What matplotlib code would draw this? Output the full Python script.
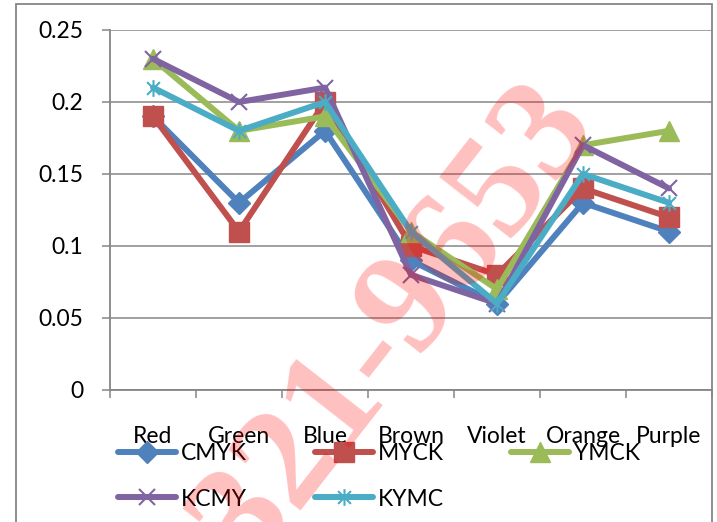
import matplotlib
matplotlib.use("Agg")
import matplotlib.pyplot as plt
from matplotlib.lines import Line2D
from matplotlib.patches import Rectangle
from matplotlib.path import Path
import numpy as np

categories = ["Red", "Green", "Blue", "Brown", "Violet", "Orange", "Purple"]
cmyk = [0.19, 0.13, 0.18, 0.09, 0.06, 0.13, 0.11]
myck = [0.19, 0.11, 0.20, 0.10, 0.08, 0.14, 0.12]
ymck = [0.23, 0.18, 0.19, 0.11, 0.07, 0.17, 0.18]
kcmy = [0.23, 0.20, 0.21, 0.08, 0.06, 0.17, 0.14]
kymc = [0.21, 0.18, 0.20, 0.11, 0.06, 0.15, 0.13]
series_names = ["CMYK", "MYCK", "YMCK", "KCMY", "KYMC"]
yticks = [0, 0.05, 0.1, 0.15, 0.2, 0.25]
ytick_labels = ["0", "0.05", "0.1", "0.15", "0.2", "0.25"]

plt.rcParams["font.family"] = ["Lato", "DejaVu Sans"]

# asterisk marker: an x with a vertical bar through it
star_path = Path(
    [(-1, -1), (1, 1), (-1, 1), (1, -1), (0, -1.3), (0, 1.3)],
    [Path.MOVETO, Path.LINETO, Path.MOVETO, Path.LINETO, Path.MOVETO, Path.LINETO],
)

styles = [
    dict(color="#4F81BD", marker="D", ms=11, mew=1),
    dict(color="#C0504D", marker="s", ms=14.5, mew=1),
    dict(color="#9BBB59", marker="^", ms=14, mew=1),
    dict(color="#8064A2", marker="x", ms=12, mew=1.5),
    dict(color="#4BACC6", marker=star_path, ms=12, mew=1.5),
]

W, H = 717, 522
fig = plt.figure(figsize=(W / 100, H / 100), dpi=100)
ax = fig.add_axes([110 / W, 1 - 390 / H, (712 - 110) / W, (390 - 30) / H])

grey = "#868686"
fs = 16.5
x = np.arange(len(categories))
for vals, st in zip([cmyk, myck, ymck, kcmy, kymc], styles):
    ax.plot(x, vals, color=st["color"], lw=4.3, marker=st["marker"],
            ms=st["ms"], mew=st["mew"], mec=st["color"], mfc=st["color"],
            solid_joinstyle="round", solid_capstyle="round", zorder=3)

ax.set_xlim(-0.5, len(categories) - 0.5)
ax.set_ylim(0, 0.25)
ax.set_yticks(yticks)
ax.set_yticklabels(ytick_labels, fontsize=fs)
ax.set_xticks(x)
ax.set_xticklabels(categories, fontsize=fs)
ax.set_xticks(np.arange(len(categories) + 1) - 0.5, minor=True)
ax.tick_params(axis="x", which="major", length=0, pad=26)
ax.tick_params(axis="x", which="minor", length=6, width=1.1, color=grey, direction="out")
ax.tick_params(axis="y", length=6, width=1.1, color=grey, direction="out", pad=13)
ax.yaxis.grid(True, color=grey, lw=1.1)
ax.set_axisbelow(True)
for side in ["top", "right"]:
    ax.spines[side].set_visible(False)
for side in ["left", "bottom"]:
    ax.spines[side].set_color(grey)
    ax.spines[side].set_linewidth(1.3)

# chart frame
fig.add_artist(Rectangle((16 / W, -0.05), (712 - 16) / W, 1.05 - 4 / H,
                         transform=fig.transFigure, fill=False, ec=grey, lw=1.3))

# legend, three entries per row
for i, (name, st) in enumerate(zip(series_names, styles)):
    col, row = i % 3, i // 3
    x0 = (118 + 196.5 * col) / W
    x1 = x0 + 58 / W
    yy = 1 - (452 + 45 * row) / H
    fig.add_artist(Line2D([x0, x1], [yy, yy], transform=fig.transFigure,
                          color=st["color"], lw=4.3, solid_capstyle="round"))
    fig.add_artist(Line2D([(x0 + x1) / 2], [yy], transform=fig.transFigure,
                          color=st["color"], marker=st["marker"], ms=st["ms"],
                          mew=st["mew"], mec=st["color"], mfc=st["color"]))
    fig.text(x1 + 5 / W, yy - 2 / H, name, fontsize=fs, va="center", ha="left")

# watermark
fig.text(374 / W, 1 - 352 / H, "2321-9653", fontsize=106, family="Liberation Serif",
         weight="bold", color="red", alpha=0.25, rotation=52,
         ha="center", va="center", rotation_mode="anchor", zorder=10)

fig.savefig("out.png", dpi=100)
